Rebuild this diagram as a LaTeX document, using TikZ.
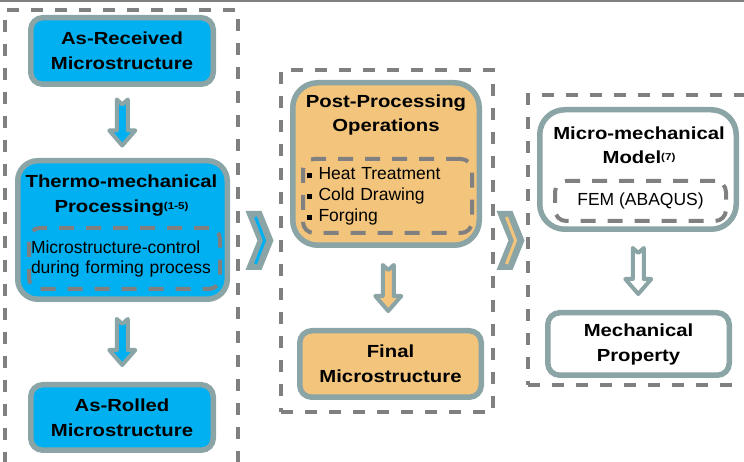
\documentclass[tikz,border=0pt]{standalone}
\usepackage{fontspec}
\setmainfont{Liberation Sans}
\newfontfamily\hdfont{Liberation Sans}[FakeStretch=1.16]
\usetikzlibrary{calc}

\definecolor{fillblue}{RGB}{0,176,240}
\definecolor{filltan}{RGB}{242,196,124}
\definecolor{edgegrey}{RGB}{139,164,166}
\definecolor{dashgrey}{RGB}{128,128,128}

\newcommand{\stagefont}{\hdfont\bfseries\fontsize{17.5}{25}\selectfont}
\newcommand{\notefont}{\fontsize{17.5}{20}\selectfont}
\newcommand{\refmark}[1]{\raisebox{3.5pt}{\fontsize{10}{10}\selectfont #1}}
\newcommand{\sqbullet}{\rule[1.5pt]{4.5pt}{4.5pt}\hspace{7pt}}

% block arrow between two stages, #3 = inner colour
\newcommand{\downblock}[3]{%
	\coordinate (m) at ($(#1.south)!0.5!(#2.north)$);
	\draw[downarrow, fill=#3] ($(m)+(-5.5,23)$) -- ++(5.5,-5) -- ++(5.5,5) -- ++(0,-31) -- ++(7.5,0) -- ++(-13,-15) -- ++(-13,15) -- ++(7.5,0) -- cycle;
}
% chevron between two groups, #3 = inner colour
\newcommand{\groupchevron}[3]{%
	\coordinate (c) at ($(#1.east)!0.5!(#2.west)$);
	\fill[edgegrey] ($(c)+(-14,29.5)$) -- ++(16,0) -- ++(12,-29.5) -- ++(-12,-29.5) -- ++(-16,0) -- ++(12,29.5) -- cycle;
	\draw[line width=3pt, #3] ($(c)+(-4,23.5)$) -- ++(9,-23.5) -- ++(-9,-23.5);
}

\begin{document}
\begin{tikzpicture}
	[x=1pt, y=1pt,
	stage/.style={draw=edgegrey, line width=5.5pt, rounded corners=12pt, inner sep=0pt, align=center, font=\stagefont},
	group/.style={draw=dashgrey, line width=3.5pt, dash pattern=on 12pt off 12pt, inner sep=0pt},
	inbox/.style={draw=dashgrey, line width=4pt, dash pattern=on 15pt off 12pt, rounded corners=11pt, inner sep=0pt, font=\notefont},
	title/.style={anchor=north, inner sep=0pt, align=center, font=\stagefont},
	downarrow/.style={draw=edgegrey, line width=4pt, line join=round}]

	\useasboundingbox (0,0) rectangle (744,462);
	\clip (0,0) rectangle (744,462);

	%Frame
	\draw[dashgrey, line width=2.5pt] (0,461) -- (744,461);

	%Groups
	\node[group, minimum width=233, minimum height=460] (procgrp) at (121.5,222) {};
	\node[group, minimum width=212, minimum height=342] (postgrp) at (387,221) {};
	\node[group, minimum width=240, minimum height=290] (modelgrp) at (648,222) {};

	%Processing
	\node[stage, fill=fillblue, minimum width=182.5, minimum height=66.5] (received) at (122,411) {As-Received\\Microstructure};
	\node[stage, fill=fillblue, rounded corners=20pt, minimum width=209.5, minimum height=138.5] (thermo) at (122.5,232) {};
	\node[title] (thermottl) at (121.5,287) {Thermo-mechanical\\Processing\refmark{(1-5)}};
	\node[inbox, minimum width=191, minimum height=61, text width=187, align=left] (control) at (124.5,203.5) {Microstructure-control\\during forming process};
	\node[stage, fill=fillblue, minimum width=182.5, minimum height=65.5] (rolled) at (122,44.5) {As-Rolled\\Microstructure};

	%Post-processing
	\node[stage, fill=filltan, rounded corners=25pt, minimum width=186.5, minimum height=162.5] (postproc) at (386,298) {};
	\node[title] (postprocttl) at (386,367) {Post-Processing\\[-1pt]Operations};
	\node[inbox, minimum width=169, minimum height=74, text width=161, align=left, font=\fontsize{17.5}{21}\selectfont] (ops) at (387.5,266) {\sqbullet Heat Treatment\\\sqbullet Cold Drawing\\\sqbullet Forging};
	\node[stage, fill=filltan, minimum width=181.5, minimum height=66.5] (final) at (390.5,98) {Final\\Microstructure};

	%Model
	\node[stage, fill=white, rounded corners=25pt, minimum width=196.5, minimum height=119.5] (micromech) at (638,292.5) {};
	\node[title] (micromechttl) at (639,335) {Micro-mechanical\\[-1pt]Model\refmark{(7)}};
	\node[inbox, minimum width=171, minimum height=40] (fem) at (640.5,261) {FEM (ABAQUS)};
	\node[stage, fill=white, minimum width=181.5, minimum height=62.5] (property) at (638.5,118) {Mechanical\\Property};

	%Arrows
	\downblock{received}{thermo}{fillblue}
	\downblock{thermo}{rolled}{fillblue}
	\downblock{postproc}{final}{filltan}
	\downblock{micromech}{property}{white}
	\groupchevron{procgrp}{postgrp}{fillblue}
	\groupchevron{postgrp}{modelgrp}{filltan}
\end{tikzpicture}
\end{document}
